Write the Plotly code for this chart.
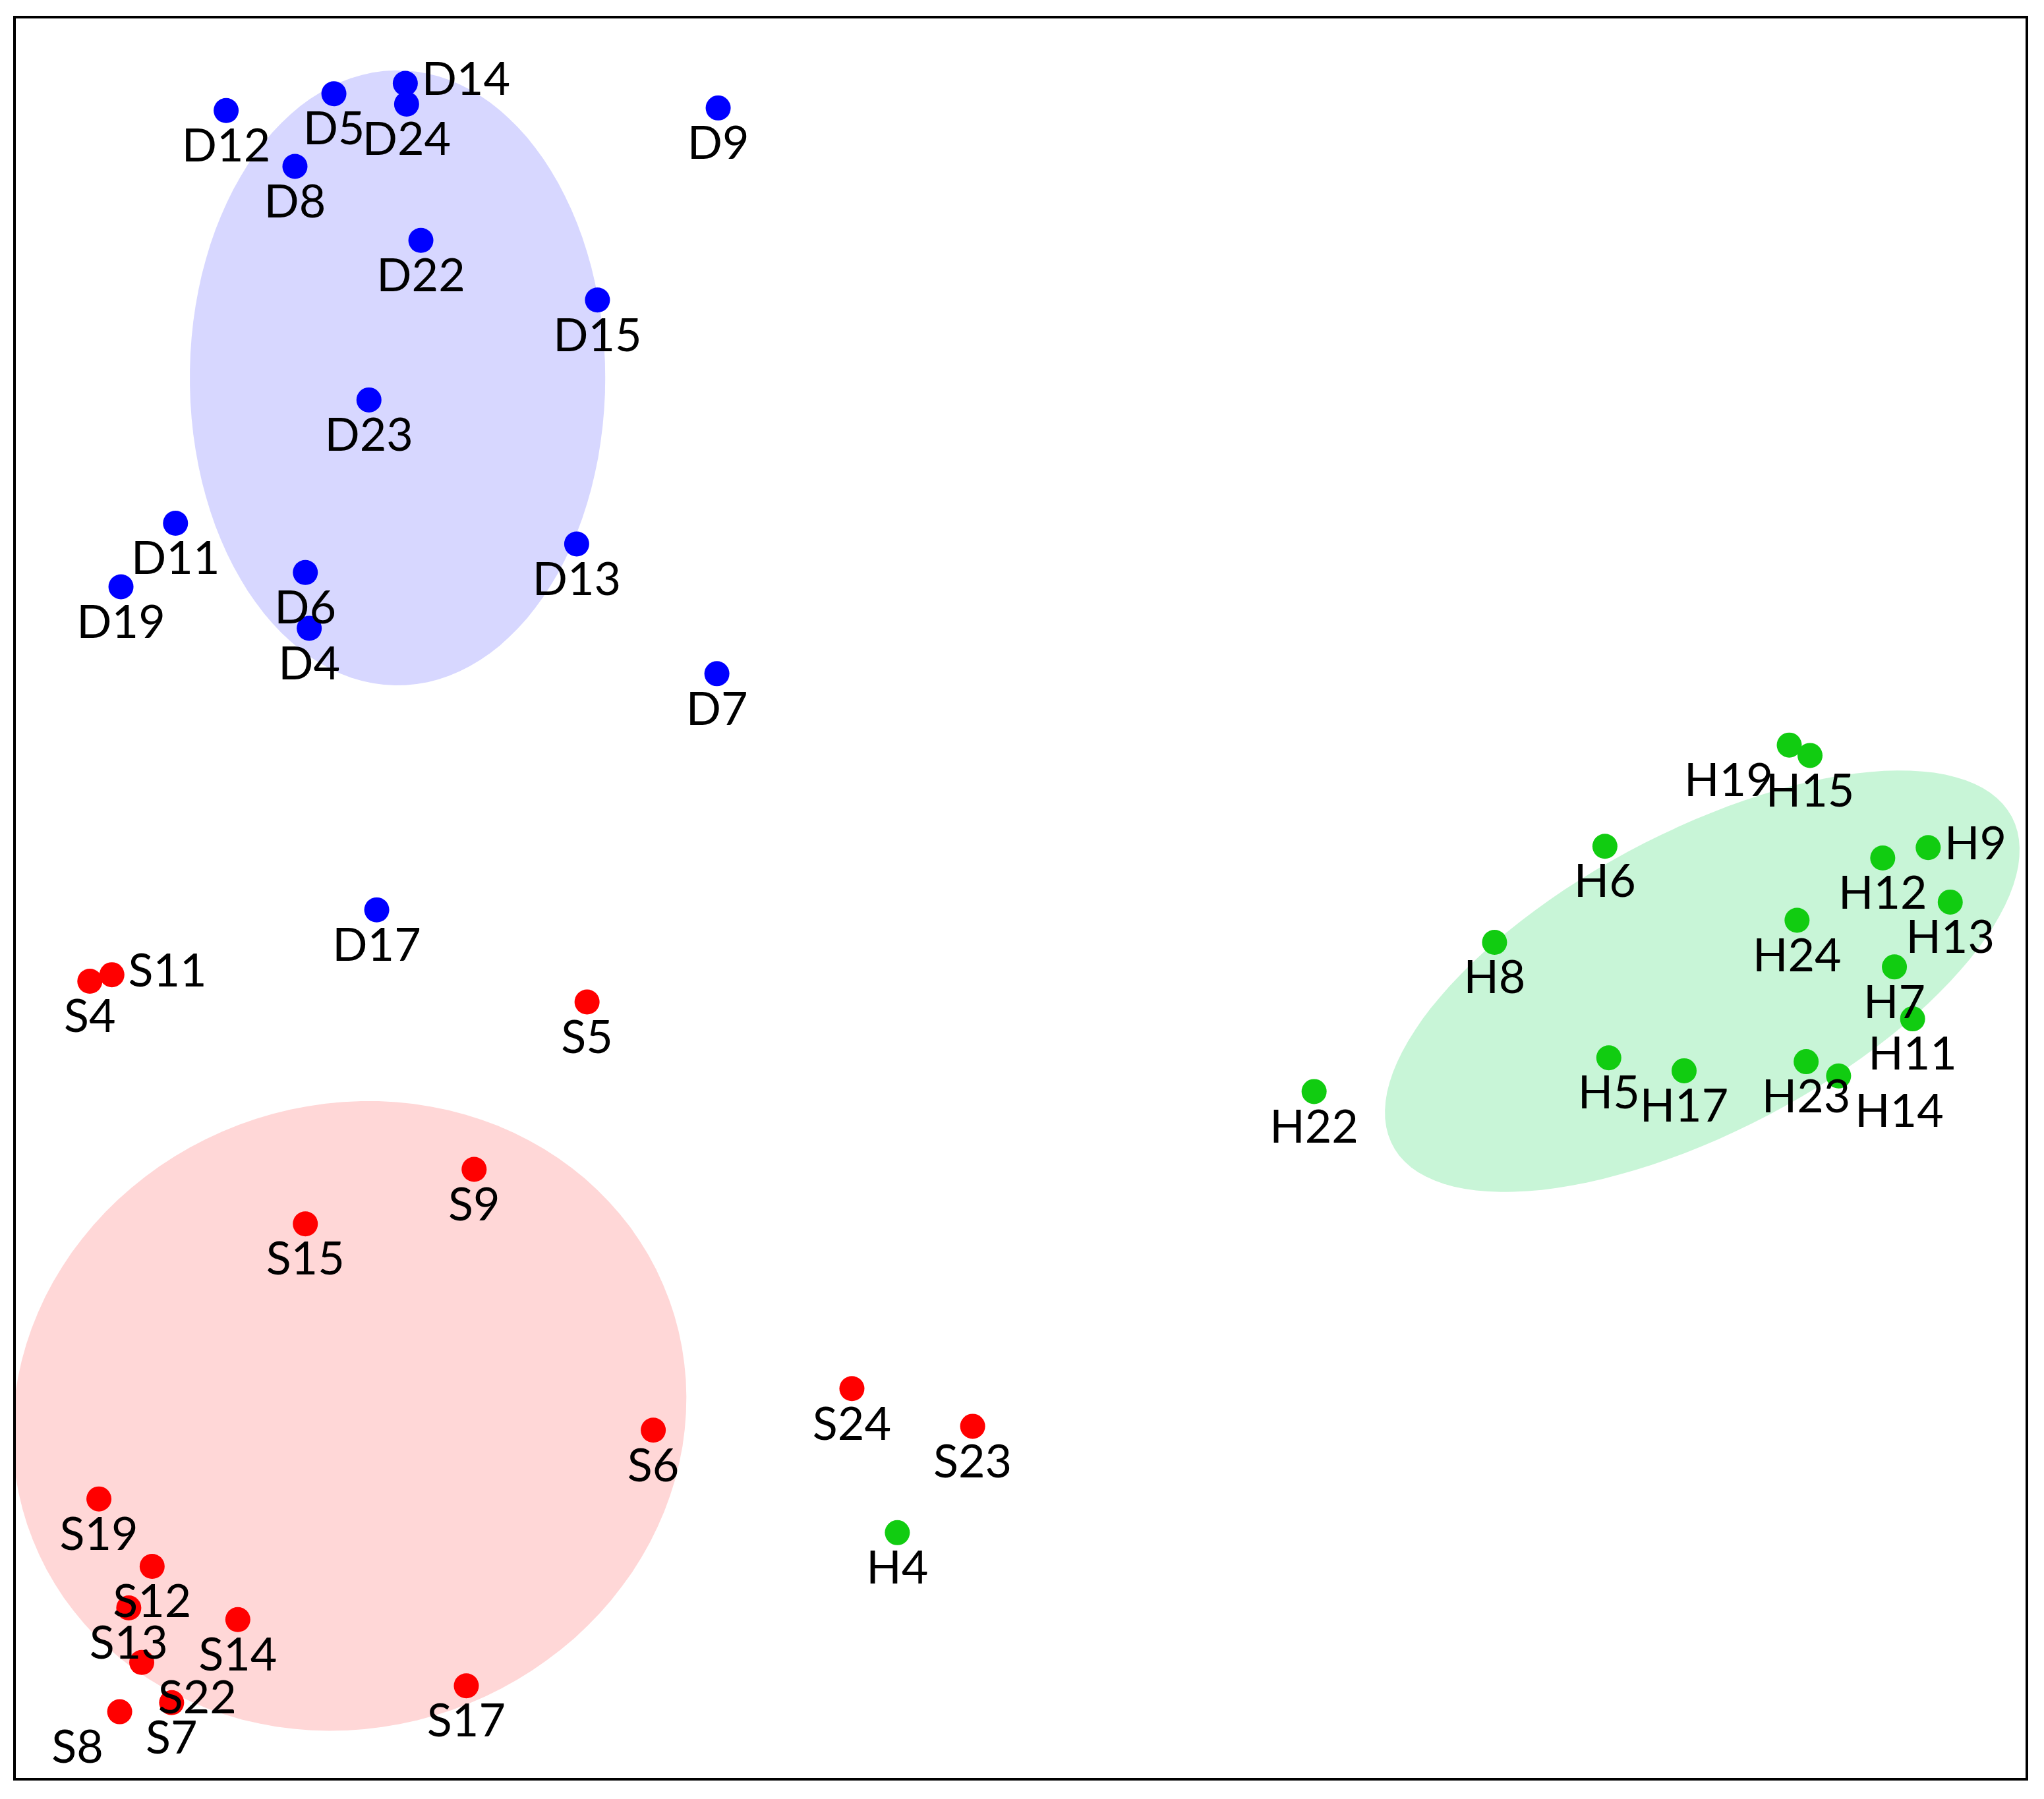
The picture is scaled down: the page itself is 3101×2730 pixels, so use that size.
import numpy as np
import plotly.graph_objects as go

# point positions in the original picture's pixel space (x right, y down)
d_names = ["D14", "D24", "D5", "D12", "D9", "D8", "D22", "D15", "D23", "D11",
           "D13", "D6", "D19", "D4", "D7", "D17"]
d_x = [308, 309, 253, 170, 549, 223, 320, 456, 280, 131, 440, 231, 89, 234, 548, 286]
d_y = [60, 76, 68, 81, 79, 124, 181, 227, 304, 399, 415, 437, 448, 480, 515, 697]
d_pos = ["middle right", "bottom center", "bottom center", "bottom center", "bottom center",
         "bottom center", "bottom center", "bottom center", "bottom center", "bottom center",
         "bottom center", "bottom center", "bottom center", "bottom center", "bottom center",
         "bottom center"]

s_names = ["S11", "S4", "S5", "S9", "S15", "S6", "S24", "S23", "S19", "S12",
           "S13", "S14", "S22", "S7", "S8", "S17"]
s_x = [82, 65, 448, 361, 231, 499, 652, 745, 72, 113, 95, 179, 105, 128, 88, 355]
s_y = [747, 752, 768, 897, 939, 1098, 1066, 1095, 1151, 1203, 1235, 1244, 1277, 1308, 1315, 1295]
s_pos = ["middle right", "bottom center", "bottom center", "bottom center", "bottom center",
         "bottom center", "bottom center", "bottom center", "bottom center", "bottom center",
         "bottom center", "bottom center", "bottom right", "bottom center", "bottom left",
         "bottom center"]

h_names = ["H4", "H19", "H15", "H6", "H9", "H12", "H13", "H24", "H8", "H7",
           "H11", "H5", "H17", "H23", "H14", "H22"]
h_x = [687, 1374, 1390, 1232, 1481, 1446, 1498, 1380, 1147, 1455, 1469, 1235, 1293, 1387, 1412, 1008]
h_y = [1177, 570, 578, 648, 649, 657, 691, 705, 722, 741, 781, 811, 821, 814, 825, 837]
h_pos = ["bottom center", "bottom left", "bottom center", "bottom center", "middle right",
         "bottom center", "bottom center", "bottom center", "bottom center", "bottom center",
         "bottom center", "bottom center", "bottom center", "bottom center", "bottom right",
         "bottom center"]


def ellipse_path(cx, cy, rx, ry, angle_deg):
    t = np.linspace(0, 2 * np.pi, 120)
    a = np.radians(angle_deg)
    x = cx + rx * np.cos(t) * np.cos(a) - ry * np.sin(t) * np.sin(a)
    y = cy + rx * np.cos(t) * np.sin(a) + ry * np.sin(t) * np.cos(a)
    return "M " + " L ".join(f"{px:.1f},{py:.1f}" for px, py in zip(x, y)) + " Z"


fig = go.Figure()

for path, col in [
    (ellipse_path(302, 287, 160, 237, 0), "rgba(215,215,255,1)"),
    (ellipse_path(265, 1087, 262, 240, -20), "rgba(255,215,215,1)"),
    (ellipse_path(1307, 752, 270, 115, -28), "rgba(200,245,215,1)"),
]:
    fig.add_shape(type="path", path=path, fillcolor=col, line_width=0, layer="below")

for names, xs, ys, pos, col in [
    (d_names, d_x, d_y, d_pos, "#0000ff"),
    (s_names, s_x, s_y, s_pos, "#ff0000"),
    (h_names, h_x, h_y, h_pos, "#11cc11"),
]:
    fig.add_trace(go.Scatter(
        x=xs, y=ys, mode="markers+text", text=names, textposition=pos,
        marker=dict(color=col, size=38),
        textfont=dict(family="Lato", size=70, color="black"),
        showlegend=False,
    ))

fig.update_xaxes(range=[8, 1556], showgrid=False, zeroline=False, showticklabels=False,
                 showline=True, linecolor="black", linewidth=4, mirror=True)
fig.update_yaxes(range=[1366, 10], showgrid=False, zeroline=False, showticklabels=False,
                 showline=True, linecolor="black", linewidth=4, mirror=True)
fig.update_layout(width=3101, height=2730, plot_bgcolor="white", paper_bgcolor="white",
                  margin=dict(l=16, r=36, t=20, b=40))

fig.write_html("out.html")
